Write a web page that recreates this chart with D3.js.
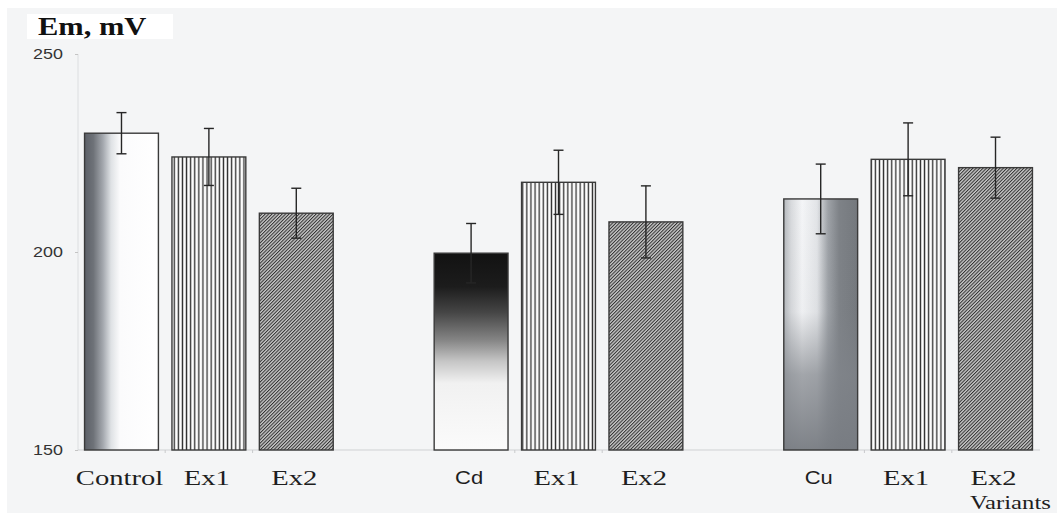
<!DOCTYPE html>
<html><head><meta charset="utf-8">
<script src="https://cdn.jsdelivr.net/npm/d3@7"></script>
<style>html,body{margin:0;padding:0;background:#fff;}svg{display:block;}</style>
</head><body>
<script>
// ---- data ----
const groups = ["Control", "Cd", "Cu"];
const categories = ["Control", "Ex1", "Ex2", "Cd", "Ex1", "Ex2", "Cu", "Ex1", "Ex2"];
const groupIndex = [0, 0, 0, 1, 1, 1, 2, 2, 2];
const fillKind = ["ctrl", "vert", "hatch", "cd", "vert", "hatch", "cu", "vert", "hatch"];
const values = [230.0, 224.0, 209.8, 199.7, 217.6, 207.6, 213.4, 223.4, 221.3];
const errors = [5.2, 7.2, 6.3, 7.5, 8.1, 9.1, 8.8, 9.2, 7.7];
const yTicks = [150, 200, 250];
const yTitle = "Em, mV";
const xTitle = "Variants";

// ---- layout ----
const W = 1057, H = 513;
const svg = d3.select("body").append("svg").attr("width", W).attr("height", H);
svg.append("rect").attr("x", 7).attr("y", 8).attr("width", W - 7).attr("height", H - 8).attr("fill", "#f4f5f6");

const defs = svg.append("defs");
// Control: horizontal gradient
const gc = defs.append("linearGradient").attr("id", "g-ctrl").attr("x1", 0).attr("x2", 1).attr("y1", 0).attr("y2", 0);
[[0, "#5c6068"], [0.12, "#6e7278"], [0.25, "#a4a8ae"], [0.36, "#dfe2e5"], [0.48, "#fbfbfc"], [1, "#ffffff"]]
  .forEach(s => gc.append("stop").attr("offset", s[0]).attr("stop-color", s[1]));
// Cd: vertical gradient
const gd = defs.append("linearGradient").attr("id", "g-cd").attr("x1", 0).attr("x2", 0).attr("y1", 0).attr("y2", 1);
[[0, "#121212"], [0.17, "#1c1c1c"], [0.3, "#454545"], [0.44, "#848484"], [0.55, "#c6c6c6"], [0.66, "#f1f1f1"], [1, "#fbfbfb"]]
  .forEach(s => gd.append("stop").attr("offset", s[0]).attr("stop-color", s[1]));
// Cu: horizontal + vertical overlay
const gu = defs.append("linearGradient").attr("id", "g-cu").attr("x1", 0).attr("x2", 1).attr("y1", 0).attr("y2", 0);
[[0, "#b4b8bc"], [0.1, "#d8dadd"], [0.25, "#f4f5f7"], [0.45, "#e2e4e7"], [0.6, "#9ea2a7"], [0.75, "#7e8287"], [1, "#74787d"]]
  .forEach(s => gu.append("stop").attr("offset", s[0]).attr("stop-color", s[1]));
const gu2 = defs.append("linearGradient").attr("id", "g-cu2").attr("x1", 0).attr("x2", 0).attr("y1", 0).attr("y2", 1);
[[0, "#80848a", 0], [0.45, "#80848a", 0.05], [0.7, "#80848a", 0.7], [1, "#787c82", 0.95]]
  .forEach(s => gu2.append("stop").attr("offset", s[0]).attr("stop-color", s[1]).attr("stop-opacity", s[2]));
// vertical stripes
const pv = defs.append("pattern").attr("id", "p-vert").attr("patternUnits", "userSpaceOnUse").attr("width", 4.1).attr("height", 10);
pv.append("rect").attr("width", 4.1).attr("height", 10).attr("fill", "#fdfdfd");
pv.append("rect").attr("x", 1.4).attr("width", 1.3).attr("height", 10).attr("fill", "#2b2b2b");
// diagonal hatch
const ph = defs.append("pattern").attr("id", "p-hatch").attr("patternUnits", "userSpaceOnUse").attr("width", 2.4).attr("height", 10)
  .attr("patternTransform", "rotate(45)");
ph.append("rect").attr("width", 2.4).attr("height", 10).attr("fill", "#c8c8c8");
ph.append("rect").attr("x", 0).attr("width", 1.0).attr("height", 10).attr("fill", "#303030");

// ---- scales ----
const slots = categories.map((c, i) => i + groupIndex[i]);
const x = d3.scaleBand().domain(d3.range(categories.length + groups.length - 1))
  .range([78, 1039]).paddingInner(0.155).paddingOuter(0.075);
const y = d3.scaleLinear().domain([150, 250]).range([450, 54]);

// axes
svg.append("line").attr("x1", 78).attr("x2", 78).attr("y1", y(250)).attr("y2", y(150)).attr("stroke", "#dcdee0").attr("stroke-width", 1);
svg.append("line").attr("x1", 78).attr("x2", 1040).attr("y1", y(150)).attr("y2", y(150)).attr("stroke", "#cfd1d3").attr("stroke-width", 1);
const yAxis = svg.append("g").attr("transform", "translate(78,0)")
  .call(d3.axisLeft(y).tickValues(yTicks).tickSize(3).tickPadding(0).tickFormat(d3.format("d")));
yAxis.select(".domain").remove();
yAxis.selectAll(".tick line").attr("stroke", "#c4c4c4");
yAxis.selectAll(".tick text").text(null);
yTicks.forEach(t => {
  svg.append("text").attr("transform", `translate(63,${y(t) + 5}) scale(1.28,1)`)
    .attr("text-anchor", "end").attr("font-family", "'Liberation Sans', Arial, sans-serif")
    .attr("font-size", 14).attr("fill", "#333").text(t);
});
// baseline boundary ticks
categories.forEach((c, i) => {
  if (i < categories.length - 1 && groupIndex[i + 1] === groupIndex[i]) {
    const bx = x(slots[i]) + x.bandwidth() + x.step() * x.paddingInner() / 2;
    svg.append("line").attr("x1", bx).attr("x2", bx).attr("y1", y(150)).attr("y2", y(150) + 3).attr("stroke", "#c8cacc");
  }
});

// bars
const fillUrl = { ctrl: "url(#g-ctrl)", vert: "url(#p-vert)", hatch: "url(#p-hatch)", cd: "url(#g-cd)", cu: "url(#g-cu)" };
categories.forEach((c, i) => {
  const bx = x(slots[i]), bw = x.bandwidth(), by = y(values[i]), bh = y(150) - y(values[i]);
  svg.append("rect").attr("x", bx).attr("y", by).attr("width", bw).attr("height", bh).attr("fill", fillUrl[fillKind[i]]);
  if (fillKind[i] === "cu")
    svg.append("rect").attr("x", bx).attr("y", by).attr("width", bw).attr("height", bh).attr("fill", "url(#g-cu2)");
  svg.append("rect").attr("x", bx).attr("y", by).attr("width", bw).attr("height", bh)
    .attr("fill", "none").attr("stroke", "#3a3a3a").attr("stroke-width", 1.4);
});

// error bars
categories.forEach((c, i) => {
  const cx = x(slots[i]) + x.bandwidth() / 2;
  const top = y(values[i] + errors[i]), bot = y(values[i] - errors[i]);
  const g = svg.append("g").attr("stroke", "#262626").attr("stroke-width", 1.4);
  g.append("line").attr("x1", cx).attr("x2", cx).attr("y1", top).attr("y2", bot);
  g.append("line").attr("x1", cx - 5).attr("x2", cx + 5).attr("y1", top).attr("y2", top);
  g.append("line").attr("x1", cx - 5).attr("x2", cx + 5).attr("y1", bot).attr("y2", bot);
});

// category labels
categories.forEach((c, i) => {
  const cx = x(slots[i]) + x.bandwidth() / 2;
  const metal = (i % 3 === 0) && i > 0;
  svg.append("text").attr("transform", `translate(${cx - 2},${metal ? 484 : 485}) scale(${metal ? 1.22 : 1.3},1)`)
    .attr("text-anchor", "middle")
    .attr("font-family", metal ? "'Liberation Sans', Arial, sans-serif" : "'Liberation Serif', 'Times New Roman', serif")
    .attr("font-size", metal ? 18 : 22).attr("fill", "#1e1e1e").text(c);
});

// titles
svg.append("rect").attr("x", 27).attr("y", 14).attr("width", 146).attr("height", 25).attr("fill", "#ffffff");
svg.append("text").attr("transform", "translate(38,35) scale(1.22,1)")
  .attr("font-family", "'Liberation Serif', 'Times New Roman', serif").attr("font-weight", "bold")
  .attr("font-size", 25).attr("fill", "#111").text(yTitle);
svg.append("text").attr("transform", "translate(970,509) scale(1.3,1)")
  .attr("font-family", "'Liberation Serif', 'Times New Roman', serif")
  .attr("font-size", 19).attr("fill", "#1e1e1e").text(xTitle);
</script>
</body></html>
